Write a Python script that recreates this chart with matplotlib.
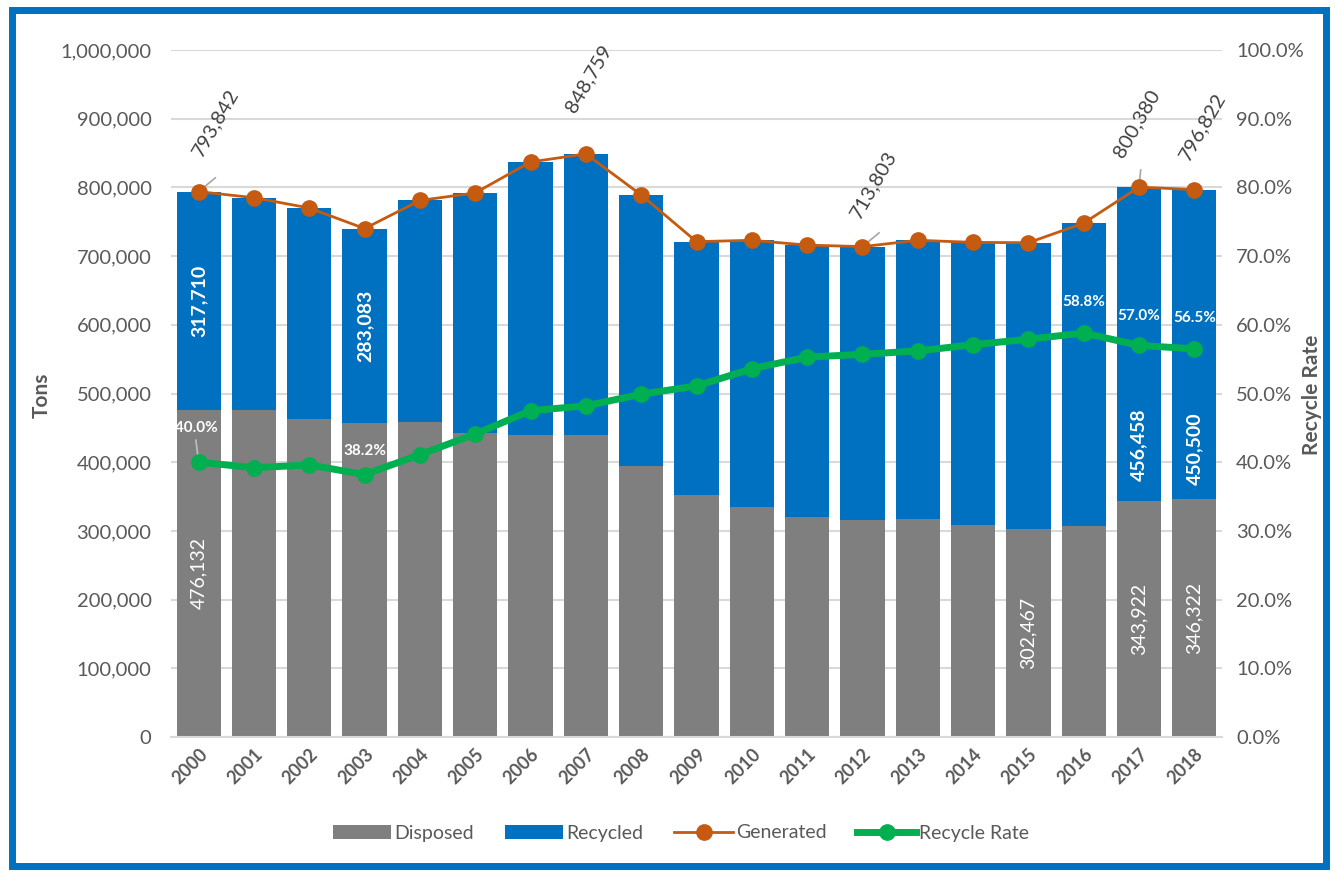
import matplotlib
matplotlib.use("Agg")
import matplotlib.pyplot as plt
from matplotlib.patches import Rectangle
from matplotlib.ticker import FuncFormatter, FixedLocator
import numpy as np

years = [str(y) for y in range(2000, 2019)]
disposed = [476132, 476000, 463000, 457000, 458000, 442000, 439000, 439000, 395000, 352000,
            335000, 320000, 316000, 317000, 309000, 302467, 307000, 343922, 346322]
recycled = [317710, 309000, 307000, 283083, 323000, 350000, 398000, 409759, 394000, 369000,
            388000, 396000, 397803, 406000, 411000, 417000, 441000, 456458, 450500]
recycle_rate = [40.0, 39.2, 39.6, 38.2, 41.1, 44.1, 47.5, 48.2, 49.9, 51.1,
                53.6, 55.3, 55.7, 56.2, 57.1, 57.9, 58.8, 57.0, 56.5]
generated = [d + r for d, r in zip(disposed, recycled)]

gen_label_idx = [0, 7, 12, 17, 18]
rate_label_idx = [0, 3, 16, 17, 18]
disp_label_idx = [0, 15, 17, 18]
rec_label_idx = [0, 3, 17, 18]

GRAY = "#7F7F7F"
BLUE = "#0070C0"
ORANGE = "#C55A11"
GREEN = "#00B050"
TXT = "#595959"
FONT = ["Lato", "DejaVu Sans"]
plt.rcParams["font.family"] = FONT

fig = plt.figure(figsize=(13.35, 8.76), dpi=100)
fig.patch.set_facecolor("white")
fig.patches.append(Rectangle((12 / 1335, 1 - 866 / 876), 1314 / 1335, 856 / 876,
                             transform=fig.transFigure, fill=False, edgecolor=BLUE,
                             linewidth=5, zorder=10))

ax = fig.add_axes([171 / 1335, 1 - 737 / 876, (1222 - 171) / 1335, (737 - 50) / 876])
x = np.arange(len(years))
ax.bar(x, disposed, width=0.8, color=GRAY, label="Disposed", zorder=2)
ax.bar(x, recycled, width=0.8, bottom=disposed, color=BLUE, label="Recycled", zorder=2)
gen_line, = ax.plot(x, generated, color=ORANGE, lw=2, marker="o", markersize=11,
                    label="Generated", zorder=4)

ax.set_xlim(-0.5, len(years) - 0.5)
ax.set_ylim(0, 1000000)
ax.yaxis.set_major_locator(FixedLocator(np.arange(0, 1000001, 100000)))
ax.yaxis.set_major_formatter(FuncFormatter(lambda v, p: f"{int(v):,}"))
ax.grid(axis="y", color="#D9D9D9", lw=1.5, zorder=0)
ax.set_axisbelow(True)
for s in ["top", "right", "left"]:
    ax.spines[s].set_visible(False)
ax.spines["bottom"].set_color("#D9D9D9")
ax.spines["bottom"].set_linewidth(1.5)
ax.tick_params(axis="y", length=0, labelsize=14.5, labelcolor=TXT, pad=14)
ax.tick_params(axis="x", length=0, labelsize=13, labelcolor=TXT, pad=6)
ax.set_xticks(x)
ax.set_xticklabels(years, rotation=45, ha="right", rotation_mode="anchor",
                   fontweight="bold")

ax2 = ax.twinx()
rate_line, = ax2.plot(x, recycle_rate, color=GREEN, lw=5, marker="o", markersize=11,
                      label="Recycle Rate", zorder=5)
ax2.set_ylim(0, 100)
ax2.yaxis.set_major_locator(FixedLocator(np.arange(0, 101, 10)))
ax2.yaxis.set_major_formatter(FuncFormatter(lambda v, p: f"{v:.1f}%"))
ax2.tick_params(axis="y", length=0, labelsize=14.5, labelcolor=TXT, pad=10)
for s in ["top", "right", "left", "bottom"]:
    ax2.spines[s].set_visible(False)

fig.text(42 / 1335, 1 - 395 / 876, "Tons", rotation=90, ha="center", va="center",
         fontsize=15, fontweight="bold", color=TXT)
fig.text(1312 / 1335, 1 - 395 / 876, "Recycle Rate", rotation=90, ha="center",
         va="center", fontsize=15, fontweight="bold", color=TXT)

# bar labels
for i in disp_label_idx:
    ax.text(x[i], disposed[i] / 2, f"{disposed[i]:,}", rotation=90, ha="center",
            va="center", color="white", fontsize=14, zorder=6)
rec_label_pos = {0: None, 3: None, 17: 425000, 18: 420000}
for i in rec_label_idx:
    ypos = rec_label_pos[i] if rec_label_pos[i] else disposed[i] + recycled[i] / 2
    ax.text(x[i], ypos, f"{recycled[i]:,}", rotation=90,
            ha="center", va="center", color="white", fontsize=14, fontweight="bold",
            zorder=6)

# generated labels
gen_offsets = {0: (0.3, 100000), 7: (0.05, 110000), 12: (0.2, 90000),
               17: (-0.05, 92000), 18: (0.15, 92000)}
for i in gen_label_idx:
    dx, dy = gen_offsets[i]
    ax.text(x[i] + dx, generated[i] + dy, f"{generated[i]:,}", rotation=60,
            ha="center", va="center", color="#404040", fontsize=14.5, zorder=6)
for i in [0, 12, 17]:
    ax.plot([x[i], x[i] + 0.3 if i != 17 else x[i] + 0.03],
            [generated[i], generated[i] + (20000 if i != 17 else 25000)],
            color="#A6A6A6", lw=1.2, zorder=3)

# rate labels
rate_offsets = {0: (-0.05, 5.0), 3: (0.0, 3.5), 16: (0.0, 4.5), 17: (0.0, 4.3),
                18: (0.0, 4.5)}
for i in rate_label_idx:
    dx, dy = rate_offsets[i]
    ax2.text(x[i] + dx, recycle_rate[i] + dy, f"{recycle_rate[i]:.1f}%", ha="center",
             va="center", color="white", fontsize=11, fontweight="bold", zorder=6)
ax2.plot([x[0] - 0.05, x[0]], [43.2, 40.0], color="#BFBFBF", lw=1.2, zorder=4)

bar_handles, bar_labels = ax.get_legend_handles_labels()
order = ["Disposed", "Recycled", "Generated"]
hmap = dict(zip(bar_labels, bar_handles))
handles = [hmap[k] for k in order] + [rate_line]
labels = order + ["Recycle Rate"]
fig.legend(handles, labels, loc="center", bbox_to_anchor=(0.51, 1 - 833 / 876),
           ncol=4, frameon=False, fontsize=14, labelcolor=TXT, handlelength=3.0,
           columnspacing=1.6, handletextpad=0.15)

fig.savefig("out.png", dpi=100)
